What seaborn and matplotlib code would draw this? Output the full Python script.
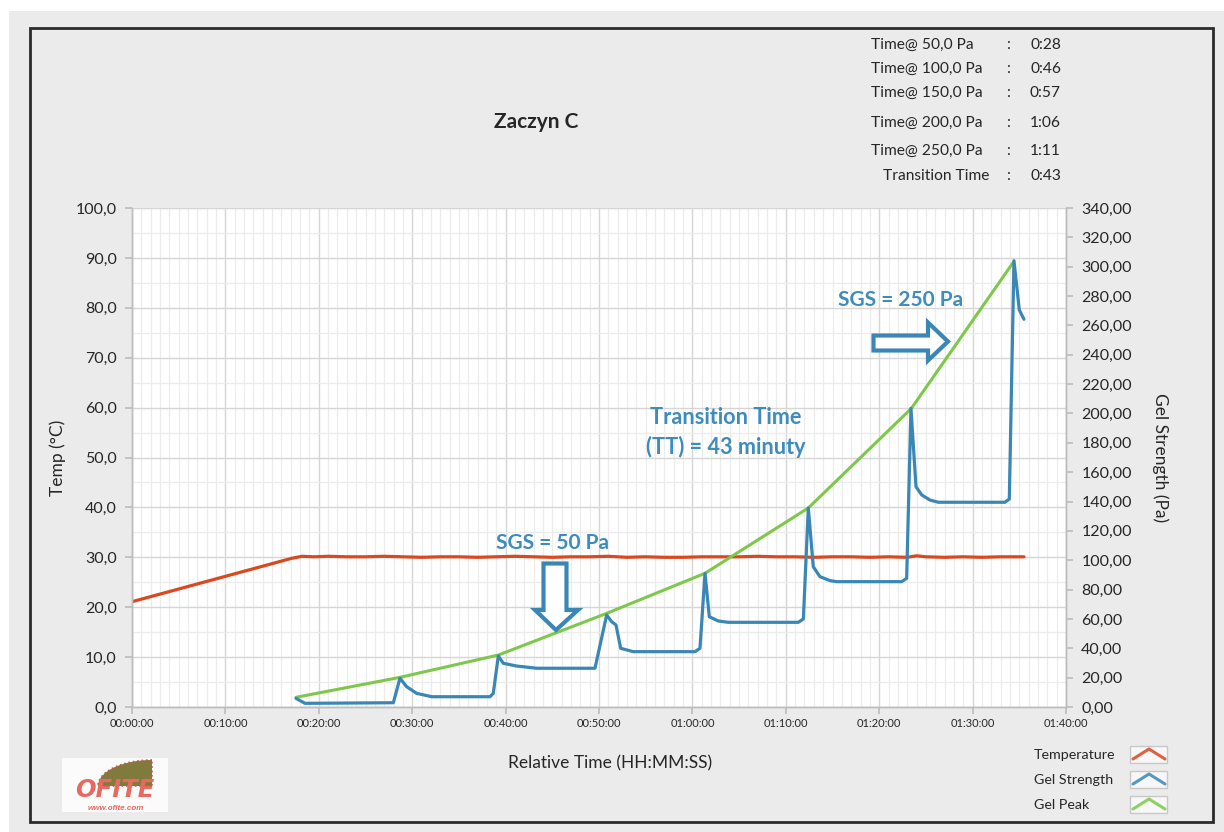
import matplotlib
matplotlib.use("Agg")
import matplotlib.pyplot as plt
from matplotlib.patches import Rectangle, Polygon
from matplotlib.lines import Line2D
from matplotlib.ticker import MultipleLocator, FuncFormatter
import numpy as np
import pandas as pd
import seaborn as sns

# ---- data -------------------------------------------------------------
# relative time in minutes
temp_time = [0.0, 17.1, 18.2, 19.5, 21.0, 23.0, 25.0, 27.0, 29.0, 31.0, 33.0,
             35.0, 37.0, 39.0, 41.0, 43.0, 45.0, 47.0, 49.0, 51.0, 53.0, 55.0,
             57.0, 59.0, 61.0, 63.0, 65.0, 67.0, 69.0, 71.0, 73.0, 75.0, 77.0,
             79.0, 81.0, 83.0, 84.0, 85.0, 87.0, 89.0, 91.0, 93.0, 95.5]
temp_vals = [21.1, 29.8, 30.2, 30.1, 30.2, 30.1, 30.1, 30.2, 30.1, 30.0, 30.1,
             30.1, 30.0, 30.1, 30.2, 30.1, 30.0, 30.1, 30.1, 30.2, 30.0, 30.1,
             30.0, 30.0, 30.1, 30.1, 30.1, 30.2, 30.1, 30.1, 30.0, 30.1, 30.1,
             30.0, 30.1, 30.0, 30.3, 30.1, 30.0, 30.1, 30.0, 30.1, 30.1]

gel_time = [17.56, 18.52, 27.98, 28.69, 29.41, 30.48, 32.09, 38.33, 38.68,
            39.22, 39.75, 41.19, 43.33, 49.57, 50.82, 51.36, 51.82, 52.32,
            53.67, 60.28, 60.81, 61.35, 61.81, 62.77, 63.84, 71.34, 71.88,
            72.41, 72.94, 73.66, 74.73, 75.45, 82.41, 82.94, 83.40, 83.94,
            84.55, 85.44, 86.33, 93.47, 93.93, 94.43, 95.00, 95.50]
gel_vals = [5.9, 2.5, 2.9, 19.6, 13.8, 9.3, 7.0, 7.0, 9.3,
            34.8, 29.8, 27.9, 26.4, 26.4, 62.7, 58.1, 55.9, 40.0,
            37.7, 37.7, 40.0, 91.1, 61.5, 58.6, 57.7, 57.7, 60.0,
            135.6, 95.6, 88.8, 86.1, 85.4, 85.4, 87.7, 203.5, 150.1,
            144.5, 141.0, 139.5, 139.5, 141.7, 304.1, 270.5, 264.2]

peak_time = [17.56, 28.69, 39.22, 50.82, 61.35, 72.41, 83.45, 94.40]
peak_vals = [6.6, 20.2, 35.4, 63.8, 91.1, 135.6, 203.5, 303.4]

table_labels = ["Time@ 50,0 Pa", "Time@ 100,0 Pa", "Time@ 150,0 Pa",
                "Time@ 200,0 Pa", "Time@ 250,0 Pa", "Transition Time"]
table_values = ["0:28", "0:46", "0:57", "1:06", "1:11", "0:43"]

legend_labels = ["Temperature", "Gel Strength", "Gel Peak"]

# ---- style ------------------------------------------------------------
sns.set_theme(style="white")
plt.rcParams["font.family"] = ["Lato", "DejaVu Sans"]

RED = "#d9481f"
BLUE = "#3a87b5"
GREEN = "#7dc84a"
NOTE = "#3d8cbc"
TXT = "#262626"
GRID_MAJ = "#d6d6d6"
GRID_MIN = "#ececec"
AXC = "#bdbdbd"

W, H = 1224, 832
fig = plt.figure(figsize=(W / 100, H / 100), dpi=100, facecolor="white")


def fx(px):
    return px / W


def fy(py):
    return 1 - py / H


# panel background and frame
fig.patches.append(Rectangle((fx(9), 0), 1 - fx(9), fy(11), transform=fig.transFigure,
                             facecolor="#ebebeb", edgecolor="none", zorder=-10))
fig.patches.append(Rectangle((fx(30), fy(822)), fx(1213) - fx(30), fy(28) - fy(822),
                             transform=fig.transFigure, facecolor="none",
                             edgecolor="#2b2b2b", linewidth=2.0, zorder=-9))

ax = fig.add_axes([fx(132), fy(707), fx(1066) - fx(132), fy(208) - fy(707)])
ax.set_facecolor("white")
ax2 = ax.twinx()

temp_df = pd.DataFrame({"t": temp_time, "v": temp_vals})
gel_df = pd.DataFrame({"t": gel_time, "v": gel_vals})
peak_df = pd.DataFrame({"t": peak_time, "v": peak_vals})

sns.lineplot(data=temp_df, x="t", y="v", ax=ax, color=RED, linewidth=2.3,
             estimator=None, sort=False)
sns.lineplot(data=peak_df, x="t", y="v", ax=ax2, color=GREEN, linewidth=2.2,
             estimator=None, sort=False)
sns.lineplot(data=gel_df, x="t", y="v", ax=ax2, color=BLUE, linewidth=2.3,
             estimator=None, sort=False)

ax.set_xlim(0, 100)
ax.set_ylim(0, 100)
ax2.set_ylim(0, 340)

ax.xaxis.set_major_locator(MultipleLocator(10))
ax.xaxis.set_minor_locator(MultipleLocator(1))
ax.yaxis.set_major_locator(MultipleLocator(10))
ax.yaxis.set_minor_locator(MultipleLocator(5))
ax2.yaxis.set_major_locator(MultipleLocator(20))


def hms(v, _):
    m = int(round(v))
    return f"{m // 60:02d}:{m % 60:02d}:00"


ax.xaxis.set_major_formatter(FuncFormatter(hms))
ax.yaxis.set_major_formatter(FuncFormatter(lambda v, _: f"{v:.1f}".replace(".", ",")))
ax2.yaxis.set_major_formatter(FuncFormatter(lambda v, _: f"{v:.2f}".replace(".", ",")))

ax.grid(which="major", color=GRID_MAJ, linewidth=1.0)
ax.grid(which="minor", color=GRID_MIN, linewidth=0.9)
ax.set_axisbelow(True)
ax2.grid(False)
ax2.patch.set_visible(False)

for a in (ax, ax2):
    a.set_xlabel("")
    a.set_ylabel("")
    a.spines["top"].set_visible(False)
    for s in ("left", "right", "bottom"):
        a.spines[s].set_color(AXC)
        a.spines[s].set_linewidth(1.0)

ax.tick_params(axis="x", which="major", direction="out", length=5, color=AXC,
               labelsize=8, labelcolor=TXT, pad=3, bottom=True)
ax.tick_params(axis="x", which="minor", length=0)
ax.tick_params(axis="y", which="major", direction="out", length=5, color=AXC,
               labelsize=11.5, labelcolor=TXT, pad=6, left=True)
ax.tick_params(axis="y", which="minor", length=0)
ax2.tick_params(axis="y", which="major", direction="out", length=5, color=AXC,
                labelsize=11.5, labelcolor=TXT, pad=6, right=True)

# axis titles
fig.text(fx(58), fy(458), "Temp (°C)", rotation=90, ha="center", va="center",
         fontsize=12.5, color=TXT)
fig.text(fx(1160), fy(458), "Gel Strength (Pa)", rotation=270, ha="center",
         va="center", fontsize=12.5, color=TXT)
fig.text(fx(610), fy(763), "Relative Time (HH:MM:SS)", ha="center", va="center",
         fontsize=12.5, color=TXT)

# chart title
fig.text(fx(536), fy(122), "Zaczyn C", ha="center", va="center", fontsize=15,
         fontweight="bold", color=TXT)

# summary table
row_y = [45, 69, 93, 123, 151, 176]
for i, (lab, val) in enumerate(zip(table_labels, table_values)):
    lx = 883 if lab.startswith("Transition") else 871
    fig.text(fx(lx), fy(row_y[i]), lab, ha="left", va="center", fontsize=11.2, color=TXT)
    fig.text(fx(1008), fy(row_y[i]), ":", ha="center", va="center", fontsize=11.2, color=TXT)
    fig.text(fx(1061), fy(row_y[i]), val, ha="right", va="center", fontsize=11.2, color=TXT)

# annotations
fig.text(fx(553), fy(543), "SGS = 50 Pa", ha="center", va="center", fontsize=15,
         fontweight="bold", color=NOTE)
fig.text(fx(901), fy(300), "SGS = 250 Pa", ha="center", va="center", fontsize=15,
         fontweight="bold", color=NOTE)
fig.text(fx(726), fy(417), "Transition Time", ha="center", va="center", fontsize=15.6,
         fontweight="bold", color=NOTE)
fig.text(fx(726), fy(447), "(TT) = 43 minuty", ha="center", va="center", fontsize=15.6,
         fontweight="bold", color=NOTE)

# hollow block arrows
down_arrow = [(543.5, 563.5), (566.5, 563.5), (566.5, 610), (578, 610), (556, 630),
              (535, 610), (543.5, 610)]
right_arrow = [(873.5, 335.5), (928, 335.5), (928, 322.5), (948, 341.5), (928, 360.5),
               (928, 350.5), (873.5, 350.5)]
for pts in (down_arrow, right_arrow):
    fig.patches.append(Polygon([(fx(x), fy(y)) for x, y in pts], closed=True,
                               transform=fig.transFigure, facecolor="white",
                               edgecolor=BLUE, linewidth=3.0, joinstyle="miter",
                               zorder=5))

# legend
leg_colors = [RED, BLUE, GREEN]
leg_y = [755, 780, 805]
for lab, col, y in zip(legend_labels, leg_colors, leg_y):
    fig.text(fx(1034), fy(y), lab, ha="left", va="center", fontsize=10.3, color=TXT)
    fig.patches.append(Rectangle((fx(1130), fy(y + 8)), fx(1167) - fx(1130),
                                 fy(y - 9) - fy(y + 8), transform=fig.transFigure,
                                 facecolor="#f7f7f7", edgecolor="#c8c8c8",
                                 linewidth=1.0))
    fig.lines.append(Line2D([fx(1133), fx(1149), fx(1165)],
                            [fy(y + 4), fy(y - 6), fy(y + 4)],
                            transform=fig.transFigure, color=col, linewidth=2.2,
                            alpha=0.85))

# company logo (local pixel coordinates, y downward)
lax = fig.add_axes([fx(62), fy(812), fx(168) - fx(62), fy(758) - fy(812)])
lax.set_xlim(62, 168)
lax.set_ylim(812, 758)
lax.set_facecolor("#fbfbfb")
for s in lax.spines.values():
    s.set_visible(False)
lax.set_xticks([])
lax.set_yticks([])
ang = np.linspace(np.pi / 2, np.pi, 40)
arc = [(152 + 54 * np.cos(a), 786 - 26 * np.sin(a)) for a in ang]
lax.add_patch(Polygon(arc + [(152, 786)], closed=True, facecolor="#807a3d",
                      edgecolor="#c9574a", linewidth=1.2, linestyle=":"))
lax.text(115, 790, "OFITE", ha="center", va="center", fontsize=17.5,
         fontweight="heavy", fontstyle="italic", color="#e66a60",
         family=["Liberation Sans Narrow", "DejaVu Sans"])
lax.text(116, 808.5, "www.ofite.com", ha="center", va="center", fontsize=5.8,
         fontweight="bold", fontstyle="italic", color="#e66a60",
         family=["Liberation Sans", "DejaVu Sans"])

fig.savefig("out.png", dpi=100, facecolor="white")
